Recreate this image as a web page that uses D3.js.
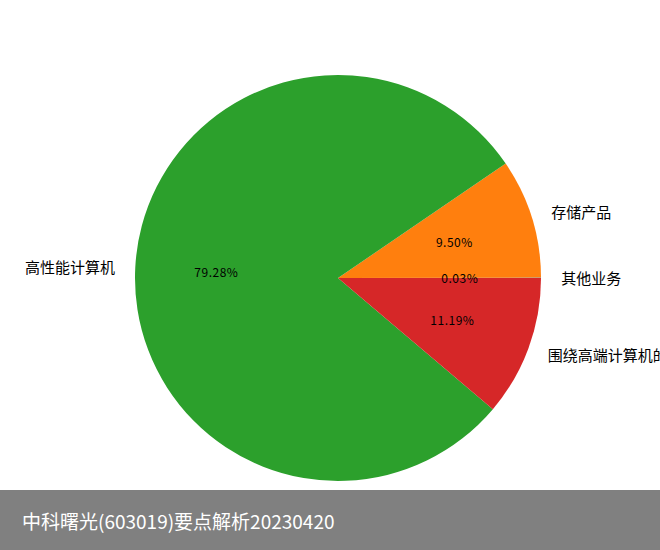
<!DOCTYPE html>
<html><head><meta charset="utf-8">
<script src="https://cdn.jsdelivr.net/npm/d3@7"></script>
<style>body{margin:0;background:#fff}svg{display:block}</style>
</head><body>
<script>
const categories = ["其他业务", "存储产品", "高性能计算机", "围绕高端计算机的技术服务"];
const values = [0.03, 9.50, 79.28, 11.19];
const colors = ["#1f77b4", "#ff7f0e", "#2ca02c", "#d62728"];
const title = "中科曙光(603019)要点解析20230420";

const W = 660, H = 550;
const cx = 338, cy = 278, R = 203;
const font = "'Noto Sans CJK SC', 'Noto Sans', sans-serif";

const svg = d3.select("body").append("svg").attr("width", W).attr("height", H);
const g = svg.append("g").attr("transform", `translate(${cx},${cy})`);

const pie = d3.pie().sort(null).value(d => d)
  .startAngle(Math.PI / 2).endAngle(Math.PI / 2 - 2 * Math.PI);
const arcs = pie(values);
const arc = d3.arc().innerRadius(0).outerRadius(R);

g.selectAll("path.slice").data(arcs).join("path")
  .attr("class", "slice")
  .attr("d", arc)
  .attr("fill", (d, i) => colors[i]);

function pos(d, f) {
  const a = (d.startAngle + d.endAngle) / 2;
  return [Math.sin(a) * R * f, -Math.cos(a) * R * f];
}

g.selectAll("text.lab").data(arcs).join("text")
  .attr("class", "lab")
  .attr("x", d => pos(d, 1.1)[0])
  .attr("y", d => pos(d, 1.1)[1])
  .attr("text-anchor", d => pos(d, 1.1)[0] >= 0 ? "start" : "end")
  .attr("dominant-baseline", "central")
  .attr("font-family", font).attr("font-size", 15).attr("fill", "#000")
  .text((d, i) => categories[i]);

g.selectAll("text.pct").data(arcs).join("text")
  .attr("class", "pct")
  .attr("x", d => pos(d, 0.6)[0])
  .attr("y", d => pos(d, 0.6)[1])
  .attr("text-anchor", "middle")
  .attr("dominant-baseline", "central")
  .attr("font-family", font).attr("font-size", 12).attr("letter-spacing", 0.5).attr("fill", "#000")
  .text(d => d.data.toFixed(2) + "%");

svg.append("rect").attr("x", 0).attr("y", 490).attr("width", W).attr("height", 60).attr("fill", "#808080");
svg.append("text").attr("x", 22).attr("y", 520)
  .attr("dominant-baseline", "central")
  .attr("font-family", font).attr("font-size", 19).attr("fill", "#fff")
  .text(title);
</script>
</body></html>
